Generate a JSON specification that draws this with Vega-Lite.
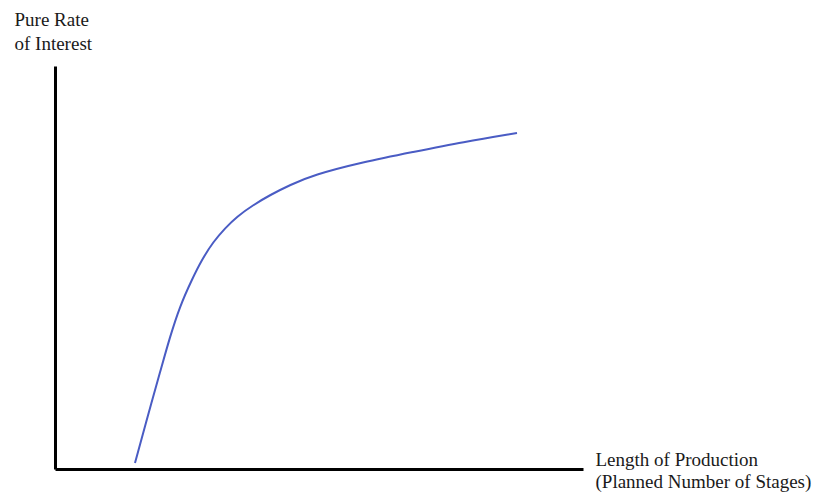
{
  "$schema": "https://vega.github.io/schema/vega-lite/v6.json",
  "width": 528,
  "height": 403,
  "autosize": "none",
  "padding": {"left": 55, "top": 66, "right": 233, "bottom": 30},
  "background": "white",
  "config": {
    "view": {"stroke": null},
    "font": "Liberation Serif"
  },
  "data": {
    "values": [
      {"stages": 1.515, "rate": 0.149},
      {"stages": 1.856, "rate": 1.787},
      {"stages": 2.002, "rate": 2.457},
      {"stages": 2.178, "rate": 3.283},
      {"stages": 2.367, "rate": 4.045},
      {"stages": 2.589, "rate": 4.690},
      {"stages": 2.778, "rate": 5.186},
      {"stages": 2.998, "rate": 5.640},
      {"stages": 3.220, "rate": 5.973},
      {"stages": 3.441, "rate": 6.261},
      {"stages": 3.756, "rate": 6.551},
      {"stages": 4.072, "rate": 6.799},
      {"stages": 4.451, "rate": 7.047},
      {"stages": 4.886, "rate": 7.295},
      {"stages": 5.833, "rate": 7.618},
      {"stages": 6.780, "rate": 7.866},
      {"stages": 7.727, "rate": 8.114},
      {"stages": 8.750, "rate": 8.337}
    ]
  },
  "mark": {"type": "line", "interpolate": "basis", "color": "#4a5cc4", "strokeWidth": 2},
  "encoding": {
    "x": {
      "field": "stages",
      "type": "quantitative",
      "scale": {"domain": [0, 10], "nice": false, "zero": false},
      "axis": {
        "title": ["Length of Production", "(Planned Number of Stages)"],
        "titleFont": "Liberation Serif",
        "titleFontSize": 19,
        "titleFontWeight": "normal",
        "titleColor": "#1a1a1a",
        "titleAlign": "left",
        "titleAnchor": null,
        "titleBaseline": "alphabetic",
        "titleLineHeight": 22,
        "titleX": 540,
        "titleY": -4,
        "domain": true,
        "domainColor": "black",
        "domainWidth": 3,
        "ticks": false,
        "labels": false,
        "grid": false
      }
    },
    "y": {
      "field": "rate",
      "type": "quantitative",
      "scale": {"domain": [0, 10], "nice": false, "zero": false},
      "axis": {
        "title": ["Pure Rate", "of Interest"],
        "titleFont": "Liberation Serif",
        "titleFontSize": 19,
        "titleFontWeight": "normal",
        "titleColor": "#1a1a1a",
        "titleAngle": 0,
        "titleAlign": "left",
        "titleAnchor": null,
        "titleBaseline": "alphabetic",
        "titleLineHeight": 24,
        "titleX": -41,
        "titleY": -41,
        "domain": true,
        "domainColor": "black",
        "domainWidth": 3,
        "ticks": false,
        "labels": false,
        "grid": false
      }
    }
  }
}
